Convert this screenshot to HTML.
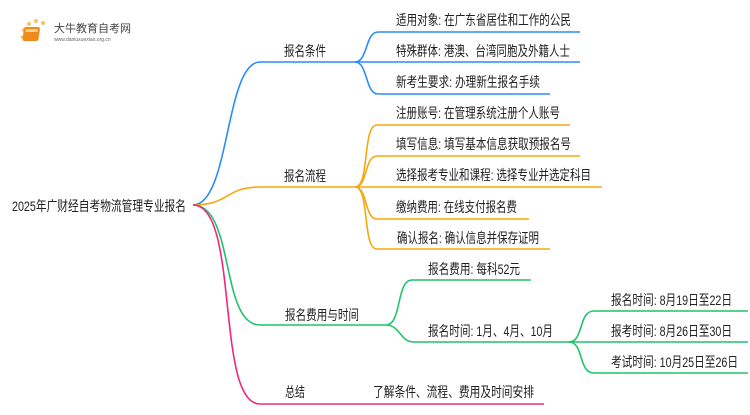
<!DOCTYPE html>
<html><head><meta charset="utf-8"><style>
body{margin:0;background:#fff;}
svg text{font-family:"Liberation Sans","Noto Sans CJK SC",sans-serif;font-size:14px;fill:#222;}
</style></head><body>
<svg width="750" height="410" viewBox="0 0 750 410" xmlns="http://www.w3.org/2000/svg">
<g>
<circle cx="24" cy="30" r="2" fill="#f7c45a"/><circle cx="29" cy="24" r="2" fill="#f7c45a"/><circle cx="36" cy="21" r="2" fill="#f7c45a"/><circle cx="43" cy="23" r="2" fill="#f7c45a"/><circle cx="22" cy="37" r="1.5" fill="#f7c45a"/>
<rect x="28" y="27" width="16" height="14" rx="2" fill="#f08a1c" transform="skewX(-8)"/>
<rect x="30" y="29" width="12" height="3" fill="#ffd08a" transform="skewX(-8)"/>
<text x="54" y="32" style="font-size:11px;fill:#444">大牛教育自考网</text>
<text x="54" y="41" style="font-size:5px;fill:#666">www.daniuxuexiao.org.cn</text>
</g>
<g fill="none" stroke-width="1.6">
<path d="M193,205 C230,205 225,62 260,62 L355,62" stroke="#2b8cf7"/>
<path d="M355,62 C368,62 365,32 378,32 L580,32" stroke="#2b8cf7"/>
<path d="M355,62 L580,62" stroke="#2b8cf7"/>
<path d="M355,62 C368,62 365,94 378,94 L550,94" stroke="#2b8cf7"/>
<path d="M193,205 C230,205 225,187 260,187 L355,187" stroke="#f5a80f"/>
<path d="M355,187 C370,187 362,125 377,125 L570,125" stroke="#f5a80f"/>
<path d="M355,187 C368,187 364,156 377,156 L580,156" stroke="#f5a80f"/>
<path d="M355,187 L602,187" stroke="#f5a80f"/>
<path d="M355,187 C368,187 364,219 377,219 L529,219" stroke="#f5a80f"/>
<path d="M355,187 C370,187 362,249 377,249 L550,249" stroke="#f5a80f"/>
<path d="M193,205 C235,205 220,325 260,325 L386,325" stroke="#1fc46a"/>
<path d="M386,325 C402,325 396,280 412,280 L531,280" stroke="#1fc46a"/>
<path d="M386,325 C400,325 400,342 414,342 L569,342" stroke="#1fc46a"/>
<path d="M569,342 C584,342 578,311 594,311 L748,311" stroke="#1fc46a"/>
<path d="M569,342 L748,342" stroke="#1fc46a"/>
<path d="M569,342 C584,342 578,373 594,373 L748,373" stroke="#1fc46a"/>
<path d="M193,205 C240,205 215,404 260,404 L544,404" stroke="#f0277a"/>
</g>
<text x="12" y="211" textLength="174" lengthAdjust="spacingAndGlyphs">2025年广财经自考物流管理专业报名</text>
<text x="284" y="56" textLength="42" lengthAdjust="spacingAndGlyphs">报名条件</text>
<text x="284" y="181" textLength="42" lengthAdjust="spacingAndGlyphs">报名流程</text>
<text x="285" y="320" textLength="74" lengthAdjust="spacingAndGlyphs">报名费用与时间</text>
<text x="285" y="397" textLength="20" lengthAdjust="spacingAndGlyphs">总结</text>
<text x="396" y="25" textLength="175" lengthAdjust="spacingAndGlyphs">适用对象: 在广东省居住和工作的公民</text>
<text x="396" y="56" textLength="174" lengthAdjust="spacingAndGlyphs">特殊群体: 港澳、台湾同胞及外籍人士</text>
<text x="396" y="87" textLength="144" lengthAdjust="spacingAndGlyphs">新考生要求: 办理新生报名手续</text>
<text x="396" y="118" textLength="164" lengthAdjust="spacingAndGlyphs">注册账号: 在管理系统注册个人账号</text>
<text x="396" y="149" textLength="175" lengthAdjust="spacingAndGlyphs">填写信息: 填写基本信息获取预报名号</text>
<text x="396" y="180" textLength="195" lengthAdjust="spacingAndGlyphs">选择报考专业和课程: 选择专业并选定科目</text>
<text x="396" y="212" textLength="121" lengthAdjust="spacingAndGlyphs">缴纳费用: 在线支付报名费</text>
<text x="397" y="243" textLength="142" lengthAdjust="spacingAndGlyphs">确认报名: 确认信息并保存证明</text>
<text x="428" y="274" textLength="92" lengthAdjust="spacingAndGlyphs">报名费用: 每科52元</text>
<text x="428" y="336" textLength="125" lengthAdjust="spacingAndGlyphs">报名时间: 1月、4月、10月</text>
<text x="611" y="305" textLength="121" lengthAdjust="spacingAndGlyphs">报名时间: 8月19日至22日</text>
<text x="611" y="336" textLength="121" lengthAdjust="spacingAndGlyphs">报考时间: 8月26日至30日</text>
<text x="611" y="367" textLength="127" lengthAdjust="spacingAndGlyphs">考试时间: 10月25日至26日</text>
<text x="373" y="397" textLength="161" lengthAdjust="spacingAndGlyphs">了解条件、流程、费用及时间安排</text>
</svg>
</body></html>
